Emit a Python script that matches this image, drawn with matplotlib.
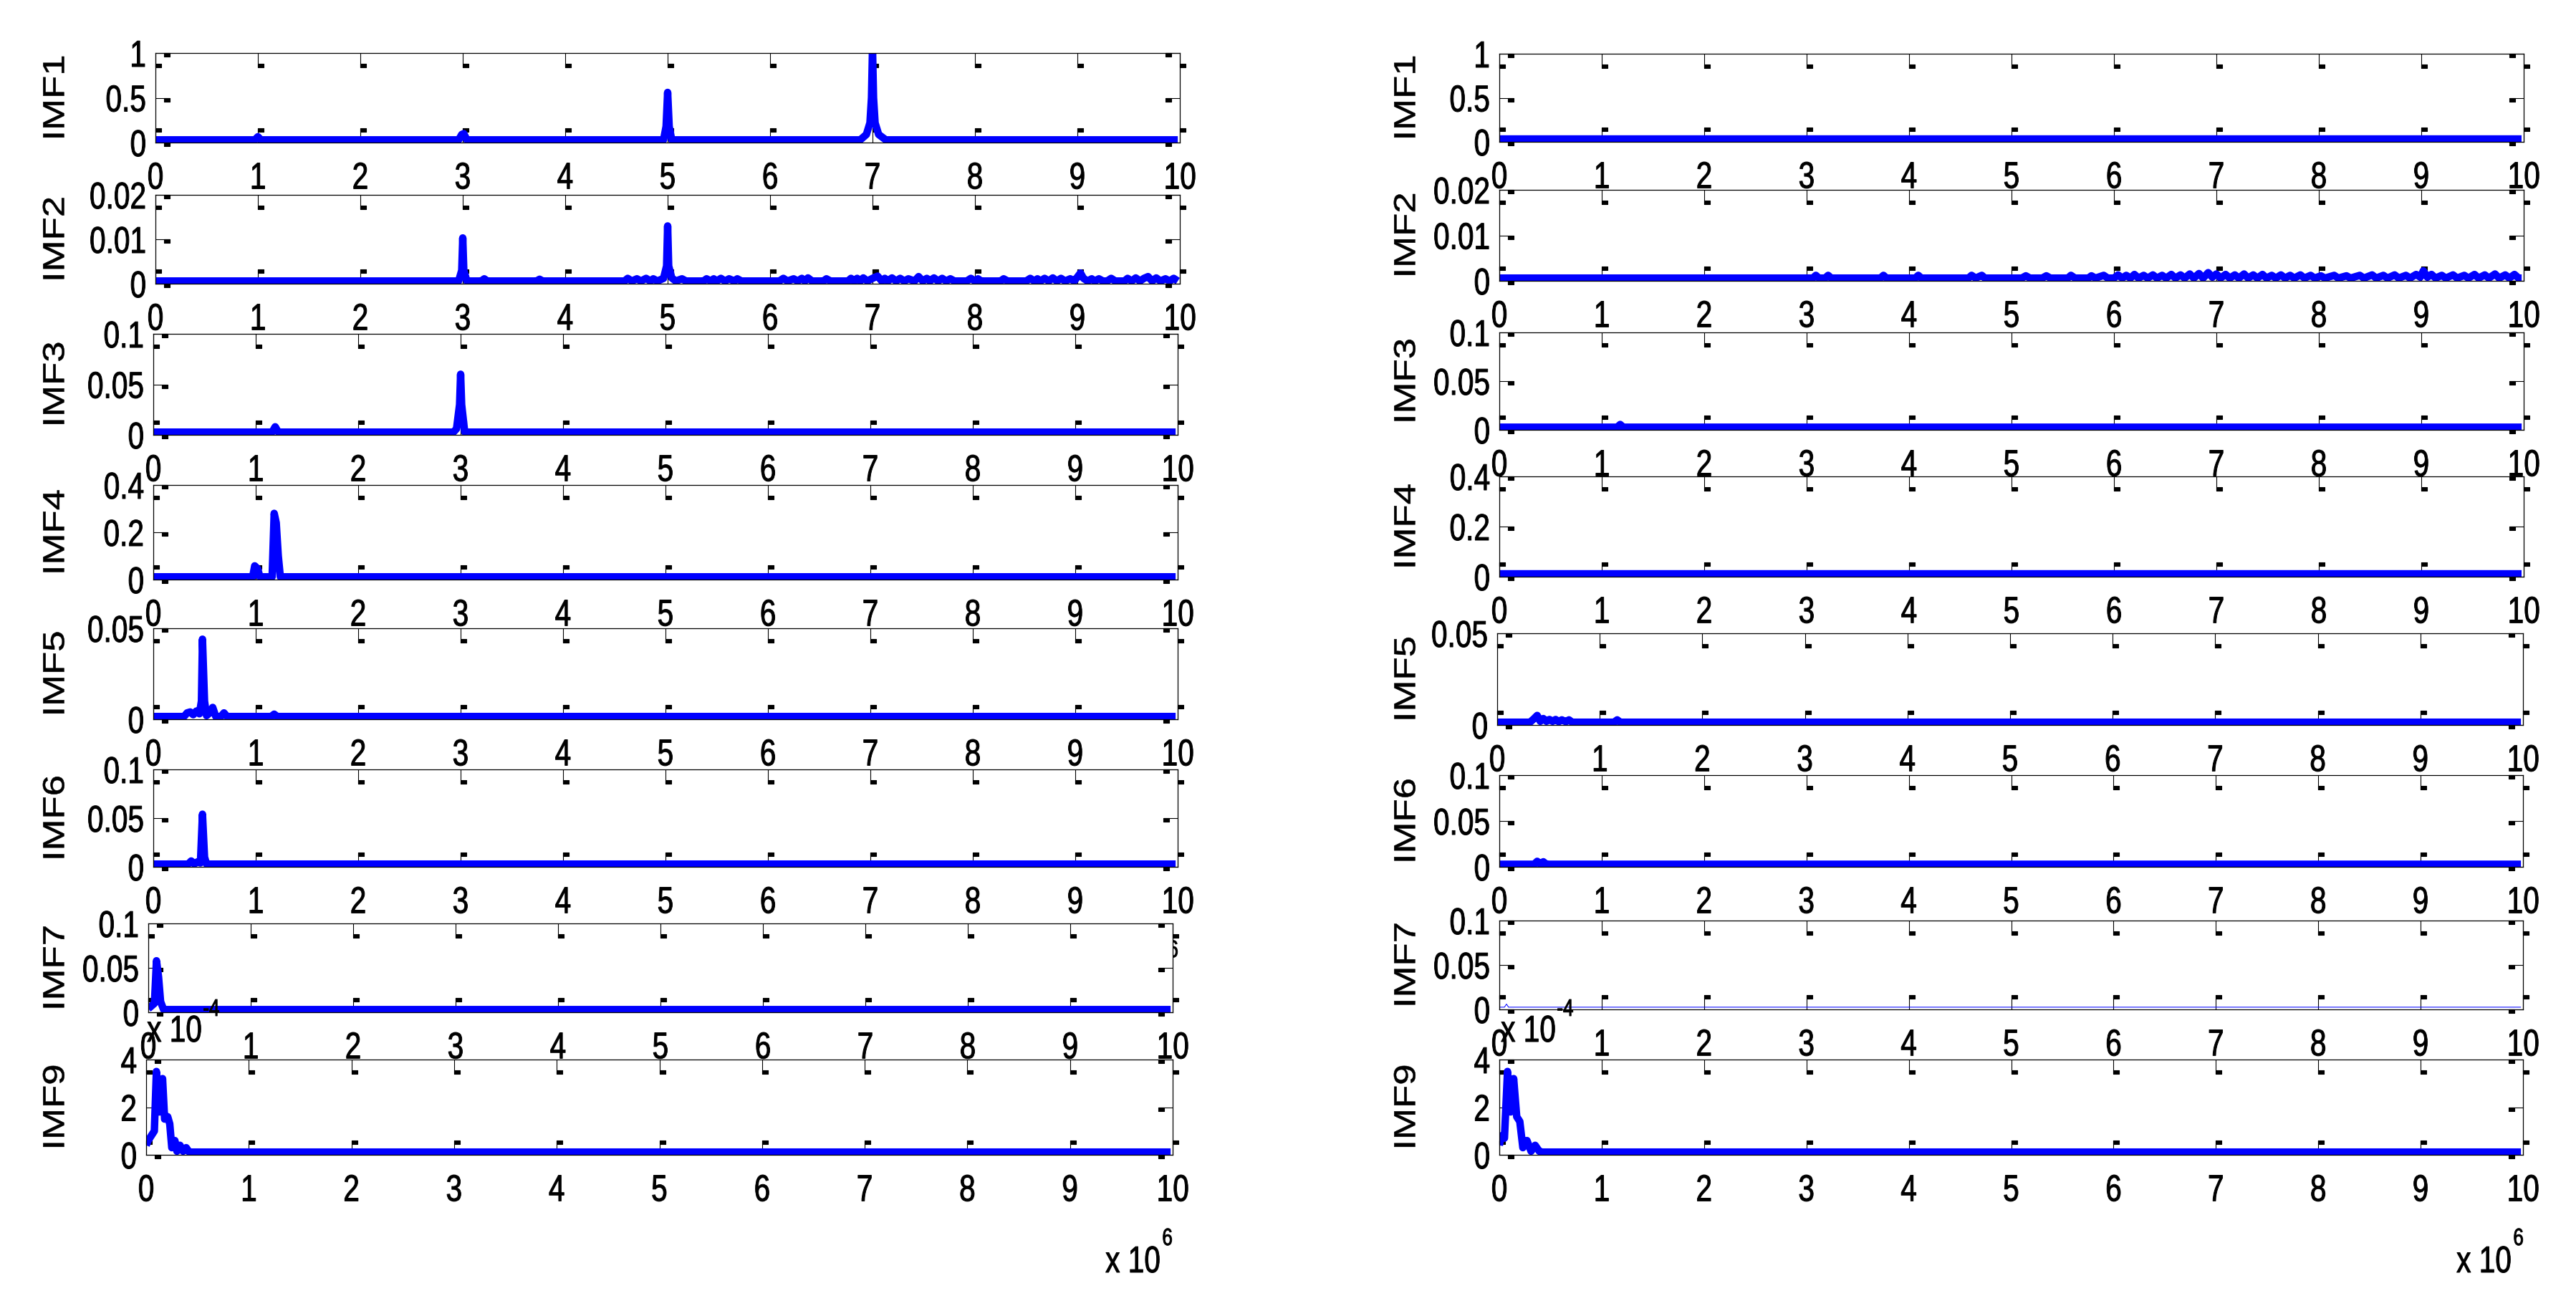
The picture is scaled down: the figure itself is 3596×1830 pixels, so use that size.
import matplotlib
matplotlib.use('Agg')
import matplotlib.pyplot as plt
import matplotlib.transforms as mtransforms
from matplotlib import patheffects
from matplotlib.path import Path
from matplotlib.markers import MarkerStyle

plt.rcParams['font.family'] = ['Liberation Sans', 'DejaVu Sans']

W, H, DPI = 3596, 1831, 100

names = ['IMF1', 'IMF2', 'IMF3', 'IMF4', 'IMF5', 'IMF6', 'IMF7', 'IMF9']
ymax = [1, 0.02, 0.1, 0.4, 0.05, 0.1, 0.1, 4]
ytick_vals = [[0, 0.5, 1], [0, 0.01, 0.02], [0, 0.05, 0.1], [0, 0.2, 0.4],
              [0, 0.05], [0, 0.05, 0.1], [0, 0.05, 0.1], [0, 2, 4]]
ytick_text = [['0', '0.5', '1'], ['0', '0.01', '0.02'], ['0', '0.05', '0.1'], ['0', '0.2', '0.4'],
              ['0', '0.05'], ['0', '0.05', '0.1'], ['0', '0.05', '0.1'], ['0', '2', '4']]
xtick_vals = [0, 1, 2, 3, 4, 5, 6, 7, 8, 9, 10]
xtick_text = ['0', '1', '2', '3', '4', '5', '6', '7', '8', '9', '10']

# spectra, x in units of 1e6 (IMF9 y in units of 1e-4)
imf1_left = [(0, 0.03), (0.97, 0.03), (1.0, 0.065), (1.03, 0.03), (2.96, 0.03), (2.99, 0.09),
             (3.01, 0.1), (3.04, 0.03), (4.96, 0.03), (4.985, 0.18), (5.0, 0.56), (5.015, 0.18),
             (5.04, 0.03), (6.88, 0.03), (6.94, 0.09), (6.975, 0.22), (6.99, 0.5), (7.0, 1.05),
             (7.01, 0.5), (7.025, 0.22), (7.06, 0.09), (7.13, 0.03), (9.98, 0.03)]
imf1_right = [(0, 0.03), (9.98, 0.03)]

imf2_left = [(0, 0.0006), (2.96, 0.0006), (2.99, 0.003), (3.0, 0.0103), (3.01, 0.003), (3.04, 0.0006),
             (3.18, 0.0006), (3.21, 0.0011), (3.24, 0.0006), (3.72, 0.0006), (3.75, 0.001), (3.78, 0.0006),
             (4.58, 0.0006), (4.61, 0.0012), (4.65, 0.0006), (4.7, 0.0011), (4.74, 0.0006), (4.79, 0.0012),
             (4.83, 0.0006), (4.86, 0.0011), (4.9, 0.0006), (4.96, 0.0012), (4.99, 0.004), (5.0, 0.013),
             (5.01, 0.004), (5.04, 0.0013), (5.08, 0.0006), (5.14, 0.0011), (5.18, 0.0006),
             (5.35, 0.0006), (5.38, 0.0011), (5.42, 0.0006), (5.45, 0.0011), (5.48, 0.0006),
             (5.52, 0.0012), (5.56, 0.0006), (5.6, 0.0011), (5.65, 0.0006), (5.68, 0.0011), (5.72, 0.0006),
             (6.09, 0.0006), (6.13, 0.0012), (6.17, 0.0006), (6.23, 0.0011), (6.27, 0.0006),
             (6.31, 0.0012), (6.34, 0.0006), (6.37, 0.0013), (6.41, 0.0006), (6.52, 0.0006),
             (6.55, 0.0011), (6.59, 0.0006), (6.76, 0.0006), (6.79, 0.0012), (6.82, 0.0006),
             (6.85, 0.0012), (6.88, 0.0006), (6.91, 0.0013), (6.95, 0.0006), (7.0, 0.0012),
             (7.05, 0.0017), (7.09, 0.0006), (7.12, 0.0012), (7.15, 0.0006), (7.19, 0.0013),
             (7.23, 0.0006), (7.27, 0.0012), (7.31, 0.0006), (7.35, 0.0011), (7.41, 0.0006),
             (7.45, 0.0016), (7.49, 0.0006), (7.53, 0.0012), (7.56, 0.0006), (7.6, 0.0013),
             (7.64, 0.0006), (7.68, 0.0012), (7.72, 0.0006), (7.76, 0.0011), (7.8, 0.0006),
             (7.92, 0.0006), (7.96, 0.0012), (8.0, 0.0006), (8.03, 0.0011), (8.06, 0.0006),
             (8.25, 0.0006), (8.28, 0.0011), (8.32, 0.0006), (8.5, 0.0006), (8.54, 0.0012),
             (8.58, 0.0006), (8.61, 0.0011), (8.64, 0.0006), (8.68, 0.0012), (8.72, 0.0006),
             (8.76, 0.0013), (8.8, 0.0006), (8.84, 0.0012), (8.88, 0.0006), (8.93, 0.0011),
             (8.97, 0.0006), (9.0, 0.0015), (9.03, 0.0024), (9.06, 0.0012), (9.1, 0.0006),
             (9.14, 0.0011), (9.17, 0.0006), (9.21, 0.0011), (9.25, 0.0006), (9.29, 0.0006),
             (9.33, 0.0012), (9.37, 0.0006), (9.46, 0.0006), (9.49, 0.0012), (9.53, 0.0006),
             (9.57, 0.0013), (9.61, 0.0006), (9.65, 0.0012), (9.69, 0.0016), (9.73, 0.0006),
             (9.77, 0.0013), (9.81, 0.0006), (9.86, 0.0011), (9.9, 0.0006), (9.94, 0.0012),
             (9.98, 0.0006)]
imf2_right = [(0, 0.0006), (3.06, 0.0006), (3.09, 0.0012), (3.12, 0.0006), (3.18, 0.0006),
              (3.21, 0.0012), (3.24, 0.0006), (3.72, 0.0006), (3.75, 0.0012), (3.78, 0.0006),
              (4.06, 0.0006), (4.09, 0.0012), (4.12, 0.0006), (4.58, 0.0006), (4.61, 0.0012),
              (4.65, 0.0006), (4.71, 0.0012), (4.74, 0.0006), (5.1, 0.0006), (5.14, 0.0011),
              (5.18, 0.0006), (5.3, 0.0006), (5.34, 0.0011), (5.38, 0.0006), (5.55, 0.0006),
              (5.58, 0.0012), (5.62, 0.0006), (5.75, 0.0006), (5.78, 0.0011), (5.82, 0.0006),
              (5.9, 0.0012), (5.94, 0.0006), (6.0, 0.0006), (6.04, 0.0013), (6.08, 0.0006),
              (6.12, 0.0012), (6.16, 0.0006), (6.2, 0.0014), (6.24, 0.0006), (6.29, 0.0012),
              (6.33, 0.0006), (6.38, 0.0013), (6.42, 0.0006), (6.47, 0.0012), (6.51, 0.0006),
              (6.56, 0.0014), (6.6, 0.0006), (6.65, 0.0013), (6.69, 0.0006), (6.74, 0.0015),
              (6.78, 0.0006), (6.83, 0.0016), (6.87, 0.0006), (6.92, 0.0018), (6.96, 0.0008),
              (7.0, 0.0015), (7.04, 0.0006), (7.09, 0.0014), (7.13, 0.0006), (7.18, 0.0013),
              (7.22, 0.0006), (7.27, 0.0015), (7.31, 0.0006), (7.36, 0.0013), (7.4, 0.0006),
              (7.45, 0.0014), (7.49, 0.0006), (7.54, 0.0012), (7.58, 0.0006), (7.63, 0.0013),
              (7.67, 0.0006), (7.72, 0.0012), (7.76, 0.0006), (7.82, 0.0013), (7.86, 0.0006),
              (7.92, 0.0012), (7.96, 0.0006), (8.02, 0.0011), (8.06, 0.0006), (8.15, 0.0012),
              (8.19, 0.0006), (8.27, 0.0011), (8.31, 0.0006), (8.4, 0.0012), (8.44, 0.0006),
              (8.52, 0.0013), (8.56, 0.0006), (8.63, 0.0012), (8.67, 0.0006), (8.74, 0.0013),
              (8.78, 0.0006), (8.85, 0.0012), (8.89, 0.0006), (8.95, 0.0014), (8.99, 0.0008),
              (9.02, 0.0022), (9.06, 0.0008), (9.1, 0.0014), (9.14, 0.0006), (9.2, 0.0012),
              (9.24, 0.0006), (9.31, 0.0013), (9.35, 0.0006), (9.42, 0.0012), (9.46, 0.0006),
              (9.52, 0.0014), (9.56, 0.0006), (9.62, 0.0013), (9.66, 0.0006), (9.72, 0.0015),
              (9.76, 0.0006), (9.82, 0.0013), (9.86, 0.0006), (9.91, 0.0014), (9.95, 0.0006),
              (9.98, 0.0006)]

imf3_left = [(0, 0.0027), (1.16, 0.0027), (1.19, 0.008), (1.22, 0.0027), (2.93, 0.0027),
             (2.96, 0.006), (2.99, 0.03), (3.0, 0.06), (3.01, 0.03), (3.04, 0.0027), (9.98, 0.0027)]
imf3_right = [(0, 0.0027), (1.15, 0.0027), (1.18, 0.0055), (1.21, 0.0027), (9.98, 0.0027)]

imf4_left = [(0, 0.0115), (0.97, 0.0115), (0.99, 0.058), (1.02, 0.045), (1.04, 0.0115),
             (1.16, 0.0115), (1.18, 0.28), (1.2, 0.24), (1.22, 0.1), (1.24, 0.0115), (9.98, 0.0115)]
imf4_right = [(0, 0.0115), (9.98, 0.0115)]

imf5_left = [(0, 0.0015), (0.3, 0.0015), (0.33, 0.0035), (0.36, 0.004), (0.39, 0.0025),
             (0.42, 0.0045), (0.45, 0.003), (0.47, 0.01), (0.48, 0.044), (0.5, 0.01), (0.52, 0.002),
             (0.55, 0.0035), (0.58, 0.0065), (0.61, 0.0015), (0.66, 0.0015), (0.69, 0.0035),
             (0.72, 0.0015), (1.15, 0.0015), (1.18, 0.0028), (1.21, 0.0015), (9.98, 0.0015)]
imf5_right = [(0, 0.0015), (0.32, 0.0015), (0.36, 0.0035), (0.39, 0.0052), (0.42, 0.002),
              (0.45, 0.0035), (0.48, 0.002), (0.51, 0.003), (0.54, 0.002), (0.57, 0.003),
              (0.6, 0.0018), (0.63, 0.0028), (0.67, 0.0018), (0.7, 0.0028), (0.73, 0.0015),
              (1.14, 0.0015), (1.17, 0.0028), (1.2, 0.0015), (9.98, 0.0015)]

imf6_left = [(0, 0.0028), (0.34, 0.0028), (0.37, 0.006), (0.4, 0.003), (0.43, 0.005), (0.46, 0.004),
             (0.48, 0.054), (0.5, 0.01), (0.52, 0.0028), (9.98, 0.0028)]
imf6_right = [(0, 0.0028), (0.34, 0.0028), (0.37, 0.006), (0.4, 0.003), (0.43, 0.0055),
              (0.46, 0.0028), (9.98, 0.0028)]

imf7_left = [(0, 0.004), (0.03, 0.007), (0.06, 0.01), (0.08, 0.058), (0.1, 0.04), (0.12, 0.012),
             (0.15, 0.003), (9.98, 0.003)]
imf7_right = [(0, 0.0025), (0.05, 0.0025), (0.07, 0.006), (0.09, 0.0025), (9.98, 0.0025)]

imf9_left = [(0, 0.4), (0.02, 0.6), (0.05, 0.8), (0.08, 1.0), (0.1, 3.5), (0.13, 1.8), (0.16, 3.2),
             (0.18, 1.5), (0.21, 1.6), (0.23, 1.3), (0.25, 0.3), (0.28, 0.6), (0.3, 0.15), (0.33, 0.4),
             (0.36, 0.15), (0.39, 0.3), (0.42, 0.115), (9.98, 0.115)]
imf9_right = [(0, 0.4), (0.02, 0.8), (0.05, 0.7), (0.08, 3.5), (0.11, 1.8), (0.14, 3.2), (0.17, 1.6),
              (0.2, 1.4), (0.23, 0.3), (0.27, 0.6), (0.31, 0.15), (0.35, 0.4), (0.39, 0.15),
              (0.42, 0.115), (9.98, 0.115)]

left_series = [imf1_left, imf2_left, imf3_left, imf4_left, imf5_left, imf6_left, imf7_left, imf9_left]
right_series = [imf1_right, imf2_right, imf3_right, imf4_right, imf5_right, imf6_right, imf7_right, imf9_right]
right_widths = [7.5, 7.5, 7.5, 7.5, 7.5, 7.5, 0.75, 7.5]

# axes boxes in pixels: left, right, top, bottom
left_boxes = [(217, 1647, 75, 200), (217, 1647, 273, 397), (214, 1644, 467, 608), (214, 1644, 678, 810),
              (214, 1644, 878, 1005), (214, 1644, 1075, 1211), (207, 1637, 1290, 1414), (204, 1637, 1480, 1613)]
right_boxes = [(2093, 3523, 76, 199), (2093, 3523, 266, 393), (2093, 3523, 465, 601), (2093, 3523, 666, 806),
               (2090, 3522, 885, 1013), (2093, 3522, 1083, 1211), (2093, 3522, 1286, 1410), (2093, 3522, 1480, 1613)]


class Squeeze(patheffects.AbstractPathEffect):
    """Draw text narrower (sx) / thinner (sy), keeping the aligned edge in place."""

    def __init__(self, sx=1.0, sy=1.0, anchor='center', stroke=0.0):
        super().__init__()
        self.sx, self.sy, self.anchor, self.stroke = sx, sy, anchor, stroke

    def draw_path(self, renderer, gc, tpath, affine, rgbFace=None):
        ext = tpath.get_extents()
        if self.anchor == 'left':
            x0 = ext.x0
        elif self.anchor == 'right':
            x0 = ext.x1
        else:
            x0 = (ext.x0 + ext.x1) / 2
        y0 = (ext.y0 + ext.y1) / 2
        sq = mtransforms.Affine2D().translate(-x0, -y0).scale(self.sx, self.sy).translate(x0, y0)
        gc0 = renderer.new_gc()
        gc0.copy_properties(gc)
        if self.stroke > 0:
            gc0.set_linewidth(self.stroke)
            gc0.set_foreground(rgbFace)
        renderer.draw_path(gc0, tpath, sq + affine, rgbFace)
        gc0.restore()


SX = 0.78
STROKE = 0.7


def tick_marker(direction):
    # MATLAB-ish tick: thin stem with a small block at its inner end
    if direction in ('up', 'down'):
        verts = [(0, 0), (0, 1), (0, 0.75), (0.4, 0.75), (0.4, 1), (0, 1), (0, 0.75)]
    else:
        verts = [(0, 0), (1, 0), (0.6, 0), (1, 0), (1, -0.25), (0.6, -0.25), (0.6, 0)]
    if direction == 'down':
        verts = [(x, -y) for x, y in verts]
    if direction == 'left':
        verts = [(-x, y) for x, y in verts]
    codes = [Path.MOVETO, Path.LINETO, Path.MOVETO, Path.LINETO, Path.LINETO, Path.LINETO, Path.CLOSEPOLY]
    return MarkerStyle(Path(verts, codes))


mk = {d: tick_marker(d) for d in ('up', 'down', 'right', 'left')}
tick_len = 28.8

fig = plt.figure(figsize=(W / DPI, H / DPI), dpi=DPI)


def panel(box, series, i, lw, label_x):
    l, r, t, b = box
    ax = fig.add_axes([l / W, 1 - b / H, (r - l) / W, (b - t) / H])
    xs = [p[0] for p in series]
    ys = [p[1] for p in series]
    ax.plot(xs, ys, color='#0000ff', lw=lw, solid_joinstyle='round', solid_capstyle='butt')
    ax.set_xlim(0, 10)
    ax.set_ylim(0, ymax[i])
    ax.set_xticks(xtick_vals, xtick_text)
    ax.set_yticks(ytick_vals[i], ytick_text[i])
    ax.tick_params(direction='in', top=True, right=True, length=tick_len, width=0.8,
                   labelsize=37.5, colors='k')
    ax.tick_params(axis='x', pad=19)
    ax.tick_params(axis='y', pad=9)
    for s in ax.spines.values():
        s.set_linewidth(0.9)
    for t_ in ax.xaxis.get_major_ticks():
        t_.tick1line.set_marker(mk['up'])
        t_.tick2line.set_marker(mk['down'])
        t_.tick1line.set_markerfacecolor('k')
        t_.tick2line.set_markerfacecolor('k')
        t_.label1.set_path_effects([Squeeze(SX, 1, 'center', STROKE)])
    for t_ in ax.yaxis.get_major_ticks():
        t_.tick1line.set_marker(mk['right'])
        t_.tick2line.set_marker(mk['left'])
        t_.tick1line.set_markerfacecolor('k')
        t_.tick2line.set_markerfacecolor('k')
        t_.label1.set_path_effects([Squeeze(SX, 1, 'right', STROKE)])
    ax.set_ylabel(names[i], fontsize=38, va='center',
                  path_effects=[Squeeze(1, 0.8, 'center', 0.4)])
    ax.yaxis.set_label_coords(label_x / W, 0.5,
                              transform=mtransforms.blended_transform_factory(fig.transFigure, ax.transAxes))
    return ax


for i in range(len(names)):
    panel(left_boxes[i], left_series[i], i, 7.5, 79)
    panel(right_boxes[i], right_series[i], i, right_widths[i], 1965)


def ftext(x, y, s, size, **kw):
    fig.text(x / W, 1 - y / H, s, fontsize=size, ha='left', va='baseline',
             path_effects=[Squeeze(SX, 1, 'left', STROKE)], **kw)


# x-axis multipliers
ftext(1543, 1777, 'x 10', 37.5)
ftext(1622, 1739, '6', 24)
ftext(3429, 1777, 'x 10', 37.5)
ftext(3508, 1739, '6', 24)
# IMF9 y multipliers
ftext(205, 1455, 'x 10', 37.5)
ftext(283, 1419, '-4', 24)
ftext(2095, 1455, 'x 10', 37.5)
ftext(2173, 1419, '-4', 24)
# stray exponent partly hidden behind the IMF7 axes
ftext(1630, 1337, '6', 24, zorder=-1)

fig.savefig('out.png', dpi=DPI)
